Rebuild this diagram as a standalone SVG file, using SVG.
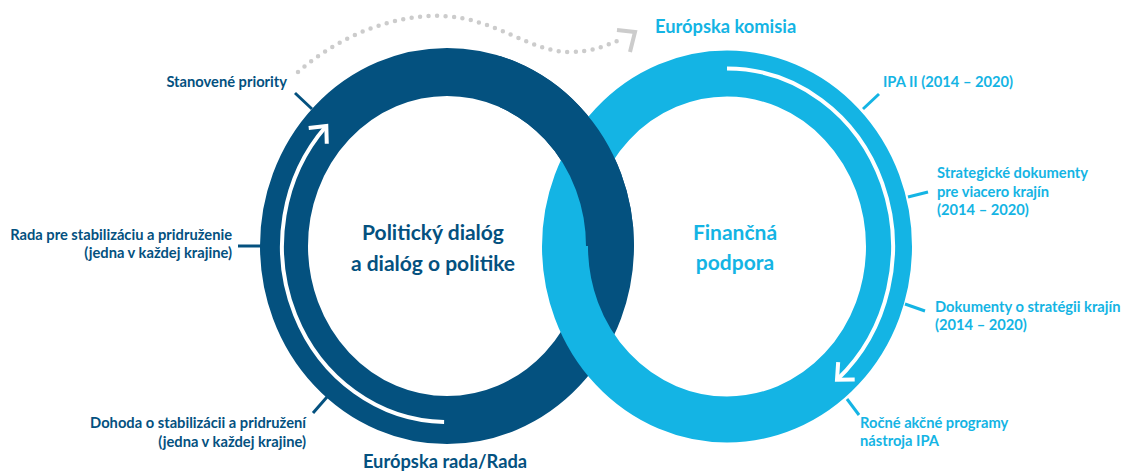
<svg xmlns="http://www.w3.org/2000/svg" width="1123" height="472" viewBox="0 0 1123 472">
  <defs>
    <style>
      text { font-family: Lato, "Open Sans", "Liberation Sans", sans-serif; font-weight: 700; }
      .dk { fill: #04517f; }
      .lt { fill: #14b4e4; }
      .lbl { font-size: 14.7px; }
      .big { font-size: 18.3px; }
      .title { font-size: 21px; }
      .ring-dk { fill: none; stroke: #04517f; stroke-width: 48; }
      .ring-lt { fill: none; stroke: #14b4e4; stroke-width: 46; }
      .flow { fill: none; stroke: #ffffff; stroke-width: 4; }
      .tick-dk { stroke: #04517f; stroke-width: 3; fill: none; }
      .tick-lt { stroke: #14b4e4; stroke-width: 3; fill: none; }
      .dots { fill: none; stroke: #cccccc; stroke-width: 4.5; stroke-linecap: round; stroke-dasharray: 0 8.5; }
      .chev-gray { fill: none; stroke: #cccccc; stroke-width: 4; }
      .r { text-anchor: end; }
      .m { text-anchor: middle; }
    </style>
    <marker id="chev" markerUnits="userSpaceOnUse" viewBox="-20 -16 24 32" refX="0" refY="0" markerWidth="24" markerHeight="32" orient="auto">
      <path d="M-13,-12 L0,0 L-13,12" fill="none" stroke="#ffffff" stroke-width="4"/>
    </marker>
    <clipPath id="upperWeave">
      <rect x="500" y="0" width="180" height="246"/>
    </clipPath>
  </defs>

  <!-- political dialogue ring (dark) -->
  <g id="ring-political">
    <ellipse id="darkRing" class="ring-dk" cx="447" cy="246" rx="163" ry="174"/>
    <path class="flow" d="M444.1,422 A165,176 0 0 1 326.3,126" marker-end="url(#chev)"/>
    <text class="title dk m" x="433" y="240">Politický dialóg</text>
    <text class="title dk m" x="433" y="271">a dialóg o politike</text>
  </g>

  <!-- financial support ring (light) -->
  <g id="ring-financial">
    <ellipse class="ring-lt" cx="727" cy="246.5" rx="162" ry="173"/>
    <text class="title lt m" x="735" y="240">Finančná</text>
    <text class="title lt m" x="735" y="270">podpora</text>
  </g>

  <!-- dark ring passes over the light ring at the upper crossing -->
  <g id="weave">
    <use href="#darkRing" clip-path="url(#upperWeave)"/>
  </g>

  <g id="ring-financial-flow">
    <path class="flow" d="M727,68.5 A166,178 0 0 1 837,379.8" marker-end="url(#chev)"/>
  </g>

  <!-- actors -->
  <g id="actor-commission">
    <text class="big lt" x="655" y="33">Európska komisia</text>
  </g>
  <g id="actor-council">
    <text class="big dk m" x="445" y="468">Európska rada/Rada</text>
  </g>

  <!-- labels on the political ring -->
  <g id="label-priorities">
    <text class="lbl dk r" x="287" y="87">Stanovené priority</text>
  </g>
  <g id="label-sa-council">
    <text class="lbl dk r" x="232" y="240">Rada pre stabilizáciu a pridruženie</text>
    <text class="lbl dk r" x="232" y="258">(jedna v každej krajine)</text>
  </g>
  <g id="label-sa-agreement">
    <text class="lbl dk r" x="306" y="428">Dohoda o stabilizácii a pridružení</text>
    <text class="lbl dk r" x="306" y="447">(jedna v každej krajine)</text>
  </g>

  <!-- labels on the financial ring -->
  <g id="label-ipa">
    <text class="lbl lt" x="883" y="87">IPA II (2014 – 2020)</text>
  </g>
  <g id="label-multi-country">
    <text class="lbl lt" x="937" y="178">Strategické dokumenty</text>
    <text class="lbl lt" x="937" y="197">pre viacero krajín</text>
    <text class="lbl lt" x="937" y="215">(2014 – 2020)</text>
  </g>
  <g id="label-country">
    <text class="lbl lt" x="935" y="312">Dokumenty o stratégii krajín</text>
    <text class="lbl lt" x="935" y="330">(2014 – 2020)</text>
  </g>
  <g id="label-annual">
    <text class="lbl lt" x="860" y="428">Ročné akčné programy</text>
    <text class="lbl lt" x="860" y="446">nástroja IPA</text>
  </g>

  <!-- connectors: label ticks and the dotted hand-over arrow -->
  <g id="connectors">
    <line class="tick-dk" x1="295" y1="93" x2="312" y2="109"/>
    <line class="tick-dk" x1="238" y1="246" x2="261" y2="246"/>
    <line class="tick-dk" x1="313" y1="413" x2="327" y2="397"/>
    <line class="tick-lt" x1="879" y1="94" x2="863" y2="109"/>
    <line class="tick-lt" x1="928" y1="192" x2="908" y2="197"/>
    <line class="tick-lt" x1="925" y1="311" x2="905" y2="304"/>
    <line class="tick-lt" x1="859" y1="415" x2="847" y2="399"/>
    <path class="dots" d="M298,72 C340,35 395,14 443,16 C495,18 530,52 570,52 C592,52 608,45 624,38"/>
    <polyline class="chev-gray" points="617,30 635,32 630,52"/>
  </g>
</svg>
